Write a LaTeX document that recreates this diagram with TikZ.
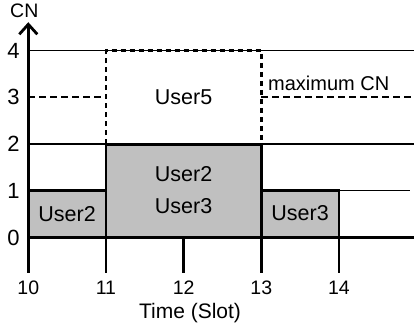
\documentclass[tikz,border=0pt]{standalone}
\usepackage{fontspec}
\setmainfont{Liberation Sans}
\usetikzlibrary{arrows.meta}
\definecolor{slotgray}{RGB}{192,192,192}
\tikzset{
  grid line/.style={line width=1.3pt, black},
  level dash/.style={line width=2pt, dash pattern=on 7pt off 4pt},
  busy/.style={fill=slotgray, draw=black, line width=2.8pt},
  reserve/.style={draw=black, line width=2.6pt, dash pattern=on 5.5pt off 3.5pt},
  axisline/.style={line width=2.8pt},
  tickline/.style={line width=2.8pt},
  ylab/.style={font=\fontsize{22}{24}\selectfont, inner sep=0pt},
  xlab/.style={font=\fontsize{19.5}{22}\selectfont, inner sep=0pt},
  userlab/.style={font=\fontsize{21.5}{24}\selectfont, inner sep=0pt},
  notelab/.style={font=\fontsize{20}{22}\selectfont, inner sep=0pt},
}
\begin{document}
\begin{tikzpicture}[x=77.67pt, y=46.7pt]
  \useasboundingbox (-28.3pt,-95.5pt) rectangle (385.7pt,237.5pt);

  % horizontal reference levels
  \draw[grid line] (0,4) -- (385.7pt,4);
  \draw[grid line] (0,2) -- (385.7pt,2);
  \draw[grid line] (4,1) -- (381.7pt,1);
  \draw[level dash] (0,3) -- (1,3);
  \draw[level dash] (3,3) -- (384pt,3);

  % time slot ticks
  \foreach \t in {1,...,4}
    \draw[tickline] (\t,0) -- (\t,-0.76);

  % occupied channel numbers
  \draw[busy] (0,0) rectangle (1,1);
  \draw[busy] (1,0) rectangle (3,2);
  \draw[busy] (3,0) rectangle (4,1);
  \draw[axisline] (0,0) -- (385.7pt,0);

  % reserved region
  \draw[reserve] (1,2) rectangle (3,4);

  % vertical axis
  \draw[axisline, -{Straight Barb[length=10pt, width=18pt]}] (0,-0.76) -- (0,4.61);

  % axis labels
  \node[xlab] (cn) at (-4pt,227pt) {CN};
  \foreach \c in {0,...,4}
    \node[ylab] (y\c) at (-14.8pt,\c) {\c};
  \foreach \t/\s in {0/10,1/11,2/12,3/13,4/14}
    \node[xlab] (x\s) at (\t,-50.5pt) {\s};
  \node[userlab, font=\fontsize{21}{24}\selectfont] (time) at (161.7pt,-75.5pt) {Time (Slot)};

  % user labels
  \node[userlab] (u5) at (2,3) {User5};
  \node[userlab] (u2a) at (0.5,0.5) {User2};
  \node[userlab] (u2b) at (2,1.36) {User2};
  \node[userlab] (u3b) at (2,0.67) {User3};
  \node[userlab] (u3c) at (3.5,0.53) {User3};
  \node[notelab, anchor=base west] (maxcn) at (239.7pt,147.5pt) {maximum CN};
\end{tikzpicture}
\end{document}
